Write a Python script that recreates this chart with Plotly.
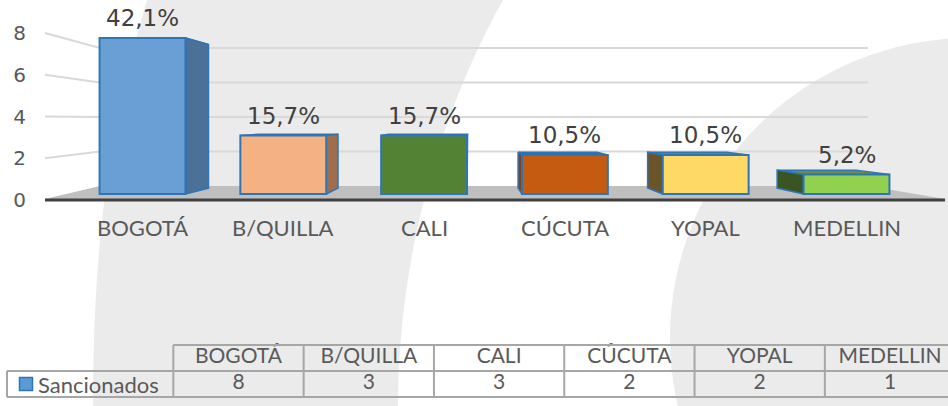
import plotly.graph_objects as go

W, H = 948, 406

# data
categories = ["BOGOTÁ", "B/QUILLA", "CALI", "CÚCUTA", "YOPAL", "MEDELLIN"]
sancionados = [8, 3, 3, 2, 2, 1]
pct_labels = ["42,1%", "15,7%", "15,7%", "10,5%", "10,5%", "5,2%"]
y_ticks = [0, 2, 4, 6, 8]
series_name = "Sancionados"

# styling
front_colors = ["#6a9fd6", "#f4b183", "#548235", "#c55a11", "#ffd966", "#92d050"]
side_colors = ["#4c7199", "#9e6e4e", "#3b5c25", "#8a3f0c", "#6b5428", "#3a5423"]
top_colors = ["#5a8cc4", "#d9966a", "#4a7530", "#a94d0f", "#8f7c3c", "#6b8f3c"]
EDGE = "#2e75b6"
BW = 0.61
VX, VY, S = 2.35, 3.8, 0.92   # fake perspective for the 3D look


def px(x):
    return x / W


def py(y):
    return 1 - y / H


def x_range(origin, unit):
    return [-origin / unit, (W - origin) / unit]


def y_range(origin, unit):
    return [-(H - origin) / unit, origin / unit]


def back(x, y):
    return VX + S * (x - VX), VY + S * (y - VY)


fig = go.Figure()

# side and top faces of the bars
for i, v in enumerate(sancionados):
    xl, xr = i - BW / 2, i + BW / 2
    edge = xr if i < VX else xl
    bx_l, by = back(xl, v)
    bx_r, _ = back(xr, v)
    be, by0 = back(edge, 0)
    fig.add_trace(go.Scatter(
        x=[xl, xr, bx_r, bx_l, xl], y=[v, v, by, by, v], fill="toself",
        fillcolor=top_colors[i], line=dict(color=EDGE, width=1.5),
        mode="lines", hoverinfo="skip", zorder=0))
    fig.add_trace(go.Scatter(
        x=[edge, edge, be, be, edge], y=[0, v, by, by0, 0], fill="toself",
        fillcolor=side_colors[i], line=dict(color=EDGE, width=1.5),
        mode="lines", hoverinfo="skip", zorder=0))

# front faces
fig.add_trace(go.Bar(
    x=list(range(len(categories))), y=sancionados, width=BW,
    marker=dict(color=front_colors, line=dict(color=EDGE, width=2)),
    hoverinfo="skip", zorder=1))

# dummy so the tick-label axis gets drawn
fig.add_trace(go.Scatter(x=[0], y=[0], yaxis="y2", mode="markers",
                         marker=dict(opacity=0), hoverinfo="skip"))

# data table under the chart
n = len(categories)
fig.add_trace(go.Scatter(
    x=list(range(n)) * 2, y=[1.5] * n + [0.5] * n,
    text=categories + [str(v) for v in sancionados], mode="text",
    textfont=dict(family="Lato", size=21, color="#595959"),
    xaxis="x3", yaxis="y4", hoverinfo="skip"))
TX0, TU = 238.5, 130.3
leg_left = (7 - TX0) / TU
fig.add_trace(go.Scatter(
    x=[(26 - TX0) / TU], y=[0.5], mode="markers",
    marker=dict(symbol="square", size=13, color="#5b9bd5",
                line=dict(color=EDGE, width=1.5)),
    xaxis="x3", yaxis="y4", hoverinfo="skip"))

shapes = []
# background watermark
shapes.append(dict(
    type="path", xref="paper", yref="paper", layer="below",
    path=(f"M {px(147)},{py(0)} C {px(115)},{py(110)} {px(93)},{py(220)} {px(93)},{py(406)} "
          f"L {px(398)},{py(406)} C {px(398)},{py(300)} {px(420)},{py(150)} {px(503)},{py(0)} Z"),
    fillcolor="#ebebeb", line=dict(width=0)))
shapes.append(dict(
    type="circle", xref="paper", yref="paper", layer="below",
    x0=px(670), x1=px(1270), y0=py(638), y1=py(38),
    fillcolor="#ebebeb", line=dict(width=0)))

# gridlines: slanted side wall then back wall
for v in y_ticks[1:]:
    fy = 200 - 20.875 * v
    wy = 186 - 17.25 * v
    shapes.append(dict(
        type="path", xref="paper", yref="paper", layer="below",
        path=f"M {px(45)},{py(fy)} L {px(100)},{py(wy)} L {px(868)},{py(wy)}",
        line=dict(color="#d9d9d9", width=2)))

# floor
shapes.append(dict(
    type="path", xref="paper", yref="paper", layer="below",
    path=f"M {px(45)},{py(199)} L {px(100)},{py(186)} L {px(868)},{py(186)} L {px(945)},{py(199)} Z",
    fillcolor="#bfbfbf", line=dict(width=0)))
shapes.append(dict(
    type="line", xref="paper", yref="paper", layer="below",
    x0=px(45), x1=px(945), y0=py(200), y1=py(200),
    line=dict(color="#404040", width=3)))

# table borders
tline = dict(color="#a6a6a6", width=2)
shapes.append(dict(type="line", xref="x3", yref="y4", x0=-0.5, x1=n, y0=2, y1=2, line=tline))
for yy in (1, 0):
    shapes.append(dict(type="line", xref="x3", yref="y4", x0=leg_left, x1=n, y0=yy, y1=yy, line=tline))
for k in range(n + 1):
    shapes.append(dict(type="line", xref="x3", yref="y4", x0=k - 0.5, x1=k - 0.5, y0=0, y1=2, line=tline))
shapes.append(dict(type="line", xref="x3", yref="y4", x0=leg_left, x1=leg_left, y0=0, y1=1, line=tline))

annotations = []
for i, v in enumerate(sancionados):
    annotations.append(dict(
        x=i, y=v, xref="x", yref="y", text=pct_labels[i], showarrow=False,
        yanchor="bottom", yshift=5,
        font=dict(family="DejaVu Sans", size=23, color="#404040")))
    annotations.append(dict(
        x=i, y=py(227), xref="x", yref="paper", text=categories[i], showarrow=False,
        yanchor="middle", font=dict(family="Lato", size=22, color="#595959")))
annotations.append(dict(
    x=(36 - TX0) / TU, y=0.5, xref="x3", yref="y4", text=series_name, showarrow=False,
    xanchor="left", yanchor="middle", font=dict(family="Lato", size=22, color="#595959")))

fig.update_layout(
    width=W, height=H,
    margin=dict(l=0, r=0, t=0, b=0),
    paper_bgcolor="white",
    plot_bgcolor="rgba(0,0,0,0)",
    showlegend=False,
    shapes=shapes,
    annotations=annotations,
    xaxis=dict(domain=[0, 1], range=x_range(142.5, 140.8), visible=False, fixedrange=True),
    yaxis=dict(domain=[0, 1], range=y_range(194, 19.5), visible=False, fixedrange=True),
    yaxis2=dict(overlaying="y", anchor="free", position=px(45), side="left",
                range=y_range(200, 20.875), tickvals=y_ticks,
                showgrid=False, zeroline=False, showline=False, ticks="",
                ticklabelstandoff=19,
                tickfont=dict(family="DejaVu Sans", size=20, color="#595959"),
                fixedrange=True),
    xaxis3=dict(domain=[0, 1], anchor="y4", range=x_range(TX0, TU), visible=False, fixedrange=True),
    yaxis4=dict(domain=[0, 1], anchor="x3", range=y_range(397, 26), visible=False, fixedrange=True),
)

# page body has an 8px default margin; drop it so the figure sits at the corner
fig.write_html("out.html", config={"displayModeBar": False},
               post_script="document.body.style.margin='0px';")
